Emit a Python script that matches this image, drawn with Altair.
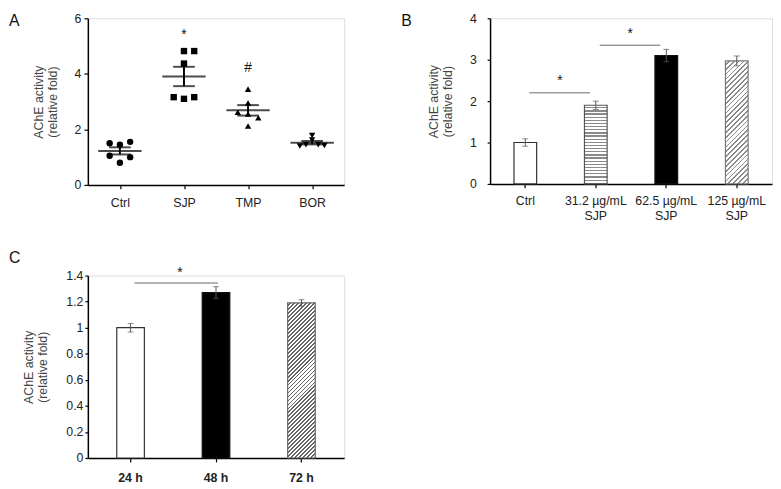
import json
import pandas as pd
import altair as alt

FONT = "Liberation Sans"

# ---------------- Panel A data ----------------
a_groups = ["Ctrl", "SJP", "TMP", "BOR"]
a_shapes = ["circle", "square", "triangle-up", "triangle-down"]
a_ctrl = [1.50, 1.45, 1.55, 1.05, 0.80, 1.00]
a_ctrl_col = [-1, 0, 1, -1, 0, 1]
a_sjp = [4.82, 4.82, 4.37, 3.16, 3.10, 3.16]
a_sjp_col = [0, 1, 0, -1, 0, 1]
a_tmp = [3.45, 2.95, 2.62, 2.55, 2.42, 2.12]
a_tmp_col = [0, 0, -1, 0, 1, 0]
a_bor = [1.78, 1.62, 1.45, 1.45, 1.40, 1.42]
a_bor_col = [0, 0, -0.6, 0.6, -1.2, 1.2]
a_ann_groups = ["SJP", "TMP"]
a_ann_text = ["*", "#"]
a_ann_y = [5.4, 4.2]
a_yticks = [0, 2, 4, 6]

# ---------------- Panel B data ----------------
b_cats = ["Ctrl", "31.2 µg/mL\nSJP", "62.5 µg/mL\nSJP", "125 µg/mL\nSJP"]
b_vals = [1.00, 1.90, 3.10, 2.97]
b_err = [0.09, 0.10, 0.15, 0.12]
b_sig_from = ["Ctrl", "31.2 µg/mL\nSJP"]
b_sig_to = ["31.2 µg/mL\nSJP", "62.5 µg/mL\nSJP"]
b_sig_y = [2.20, 3.35]
b_star_y = [2.48, 3.63]
b_yticks = [0, 1, 2, 3, 4]

# ---------------- Panel C data ----------------
c_cats = ["24 h", "48 h", "72 h"]
c_vals = [1.00, 1.27, 1.19]
c_err = [0.033, 0.045, 0.025]
c_sig_from = ["24 h"]
c_sig_to = ["48 h"]
c_sig_y = [1.343]
c_star_y = [1.42]
c_yticks = [0, 0.2, 0.4, 0.6, 0.8, 1.0, 1.2, 1.4]

# ---------------- sizes ----------------
WA, HA = 260, 169
WB, HB = 286, 168
WC, HC = 260, 185
BAR_B, BAR_C = 23, 28


def hstripes(n, frac, bg, fg):
    stops = []
    for k in range(n):
        a = round(k / n, 5)
        b = round((k + 1 - frac) / n, 5)
        c = round((k + 1) / n, 5)
        stops += [alt.GradientStop(color=bg, offset=a), alt.GradientStop(color=bg, offset=b),
                  alt.GradientStop(color=fg, offset=b), alt.GradientStop(color=fg, offset=c)]
    return stops


def horiz_fill(h, period, frac, bg, fg):
    n = max(1, round(h / period))
    return alt.LinearGradient(gradient="linear", stops=hstripes(n, frac, bg, fg),
                              x1=0, y1=0, x2=0, y2=1)


def diag_fill(w, h, spacing, frac, bg, fg):
    r = w / h
    b = (1 + r) / (1 + r * r)
    n = max(1, round((w + h) / spacing))
    return alt.LinearGradient(gradient="linear", stops=hstripes(n, frac, bg, fg),
                              x1=0, y1=0, x2=round(r * b, 5), y2=round(b, 5))


def letter(t, dx, dy):
    return alt.Chart(pd.DataFrame({"t": [t]})).mark_text(
        align="left", baseline="top", fontSize=16, font=FONT, color="#111"
    ).encode(text="t:N", x=alt.value(dx), y=alt.value(dy))


ytitle = ["AChE activity", "(relative fold)"]

# ================= Panel A =================
rows = []
for i, (g, vals, cols) in enumerate(zip(a_groups, [a_ctrl, a_sjp, a_tmp, a_bor],
                                        [a_ctrl_col, a_sjp_col, a_tmp_col, a_bor_col])):
    for v, c in zip(vals, cols):
        rows.append({"group": g, "idx": i, "val": v, "col": c})
df_a = pd.DataFrame(rows)
df_a_ann = pd.DataFrame({"group": a_ann_groups, "txt": a_ann_text, "y": a_ann_y,
                         "idx": [a_groups.index(g) for g in a_ann_groups]})

label_expr_a = json.dumps(a_groups) + "[floor(datum.value)]"
sxA = alt.Scale(domain=[0, len(a_groups)], nice=False, zero=False)
syA = alt.Scale(domain=[0, 6], nice=False)
axA_x = alt.Axis(values=[i + 0.5 for i in range(len(a_groups))], labelExpr=label_expr_a,
                 title=None, tickSize=4, labelPadding=8)
axA_y = alt.Axis(values=a_yticks, title=ytitle, tickSize=4, labelPadding=3, titlePadding=15)


def XA(f):
    return alt.X(f, scale=sxA, axis=axA_x)


def YA(f):
    return alt.Y(f, scale=syA, axis=axA_y)


pts = alt.Chart(df_a).transform_calculate(
    xpos="datum.idx + 0.5 + datum.col * 0.16"
).mark_point(filled=True, size=42, opacity=1, color="black").encode(
    x=XA("xpos:Q"), y=YA("val:Q"),
    shape=alt.Shape("group:N", scale=alt.Scale(domain=a_groups, range=a_shapes), legend=None),
)

summ = alt.Chart(df_a).transform_aggregate(
    m="mean(val)", se="stderr(val)", groupby=["group", "idx"]
).transform_calculate(
    xpos="datum.idx + 0.5", lo="datum.m - datum.se", hi="datum.m + datum.se"
)
mean_t = summ.mark_tick(orient="horizontal", size=44, thickness=2, color="black").encode(
    x=XA("xpos:Q"), y=YA("m:Q"))
cap_hi = summ.mark_tick(orient="horizontal", size=22, thickness=2, color="black").encode(
    x=XA("xpos:Q"), y=YA("hi:Q"))
cap_lo = summ.mark_tick(orient="horizontal", size=22, thickness=2, color="black").encode(
    x=XA("xpos:Q"), y=YA("lo:Q"))
vbar = summ.mark_rule(strokeWidth=2, color="black").encode(
    x=XA("xpos:Q"), y=YA("lo:Q"), y2="hi:Q")
ann = alt.Chart(df_a_ann).transform_calculate(xpos="datum.idx + 0.5").mark_text(
    fontSize=14, font=FONT, color="#111", baseline="middle"
).encode(x=XA("xpos:Q"), y=YA("y:Q"), text="txt:N")

panel_a = alt.layer(pts, vbar, mean_t, cap_hi, cap_lo, ann, letter("A", -80, -5)).properties(
    width=WA, height=HA)

# ================= Panel B =================
df_b = pd.DataFrame({"cat": b_cats, "val": b_vals, "err": b_err})
df_b_sig = pd.DataFrame({"f": b_sig_from, "t": b_sig_to, "y": b_sig_y, "sy": b_star_y})
sxB = alt.Scale(domain=b_cats, paddingInner=0, paddingOuter=0)
syB = alt.Scale(domain=[0, 4], nice=False)
axB_x = alt.Axis(title=None, labelAngle=0, tickSize=4, labelPadding=7,
                 labelExpr="split(datum.label, '\\n')", labelLineHeight=15)
axB_y = alt.Axis(values=b_yticks, title=ytitle, tickSize=3, labelPadding=11, titlePadding=15)


def XB(f):
    return alt.X(f, scale=sxB, axis=axB_x, sort=b_cats)


def YB(f):
    return alt.Y(f, scale=syB, axis=axB_y)


pxB = HB / 4.0
fills_b = [
    "white",
    horiz_fill(b_vals[1] * pxB, 3.2, 0.4, "#ffffff", "#8a8a8a"),
    "black",
    diag_fill(BAR_B, b_vals[3] * pxB, 5.0, 0.35, "#ffffff", "#8a8a8a"),
]
strokes_b = ["#333333", "#555555", "#111111", "#777777"]
bars_b = []
for c, f, s in zip(b_cats, fills_b, strokes_b):
    bars_b.append(
        alt.Chart(df_b).transform_filter(alt.FieldEqualPredicate(field="cat", equal=c))
        .mark_bar(size=BAR_B, fill=f, stroke=s, strokeWidth=1.2).encode(x=XB("cat:N"), y=YB("val:Q"))
    )
errb = alt.Chart(df_b).transform_calculate(lo="datum.val - datum.err", hi="datum.val + datum.err")
eb_rule = errb.mark_rule(color="#555", strokeWidth=1).encode(
    x=XB("cat:N"), y=YB("lo:Q"), y2="hi:Q")
eb_hi = errb.mark_tick(orient="horizontal", size=6, thickness=1, color="#555").encode(
    x=XB("cat:N"), y=YB("hi:Q"))
eb_lo = errb.mark_tick(orient="horizontal", size=6, thickness=1, color="#555").encode(
    x=XB("cat:N"), y=YB("lo:Q"))
sig_b = alt.Chart(df_b_sig).mark_rule(color="#666", strokeWidth=1, xOffset=4, x2Offset=-6).encode(
    x=XB("f:N"), x2="t:N", y=YB("y:Q"))
star_b = alt.Chart(df_b_sig).mark_text(fontSize=14, font=FONT, color="#111", dx=35,
                                        baseline="middle").encode(
    x=XB("f:N"), y=YB("sy:Q"), text=alt.value("*"))

panel_b = alt.layer(*bars_b, eb_rule, eb_hi, eb_lo, sig_b, star_b, letter("B", -90, -5)).properties(
    width=WB, height=HB)

# ================= Panel C =================
df_c = pd.DataFrame({"cat": c_cats, "val": c_vals, "err": c_err})
df_c_sig = pd.DataFrame({"f": c_sig_from, "t": c_sig_to, "y": c_sig_y, "sy": c_star_y})
sxC = alt.Scale(domain=c_cats, paddingInner=0, paddingOuter=0)
syC = alt.Scale(domain=[0, 1.4], nice=False)
axC_x = alt.Axis(title=None, labelAngle=0, tickSize=4, labelPadding=10, labelFontWeight="bold")
axC_y = alt.Axis(values=c_yticks, format=".1~f", title=ytitle, tickSize=3, labelPadding=2,
                 titlePadding=17)


def XC(f):
    return alt.X(f, scale=sxC, axis=axC_x, sort=c_cats)


def YC(f):
    return alt.Y(f, scale=syC, axis=axC_y)


pxC = HC / 1.4
fills_c = ["white", "black", diag_fill(BAR_C, c_vals[2] * pxC, 4.0, 0.45, "#ffffff", "#666666")]
strokes_c = ["#333333", "#111111", "#666666"]
bars_c = []
for c, f, s in zip(c_cats, fills_c, strokes_c):
    bars_c.append(
        alt.Chart(df_c).transform_filter(alt.FieldEqualPredicate(field="cat", equal=c))
        .mark_bar(size=BAR_C, fill=f, stroke=s, strokeWidth=1.2).encode(x=XC("cat:N"), y=YC("val:Q"))
    )
errc = alt.Chart(df_c).transform_calculate(lo="datum.val - datum.err", hi="datum.val + datum.err")
ec_rule = errc.mark_rule(color="#555", strokeWidth=1).encode(
    x=XC("cat:N"), y=YC("lo:Q"), y2="hi:Q")
ec_hi = errc.mark_tick(orient="horizontal", size=6, thickness=1, color="#555").encode(
    x=XC("cat:N"), y=YC("hi:Q"))
ec_lo = errc.mark_tick(orient="horizontal", size=6, thickness=1, color="#555").encode(
    x=XC("cat:N"), y=YC("lo:Q"))
sig_c = alt.Chart(df_c_sig).mark_rule(color="#666", strokeWidth=1, xOffset=4, x2Offset=2).encode(
    x=XC("f:N"), x2="t:N", y=YC("y:Q"))
star_c = alt.Chart(df_c_sig).mark_text(fontSize=14, font=FONT, color="#111", dx=50,
                                        baseline="middle").encode(
    x=XC("f:N"), y=YC("sy:Q"), text=alt.value("*"))

panel_c = alt.layer(*bars_c, ec_rule, ec_hi, ec_lo, sig_c, star_c, letter("C", -80, -26)).properties(
    width=WC, height=HC)

chart = alt.vconcat(
    alt.hconcat(panel_a, panel_b, spacing=56),
    panel_c,
    spacing=27,
).properties(padding=0).configure_view(strokeWidth=0, stroke="transparent").configure(
    font=FONT
).configure_axis(
    grid=False, domainColor="black", domainWidth=1.5, tickColor="black", tickWidth=1.2,
    labelFont=FONT, labelFontSize=12.5, labelColor="#222",
    titleFont=FONT, titleFontSize=12.5, titleColor="#444", titleFontWeight="normal",
    titleLineHeight=14,
)

chart.save("out.html", embed_options={"renderer": "svg", "actions": False})
